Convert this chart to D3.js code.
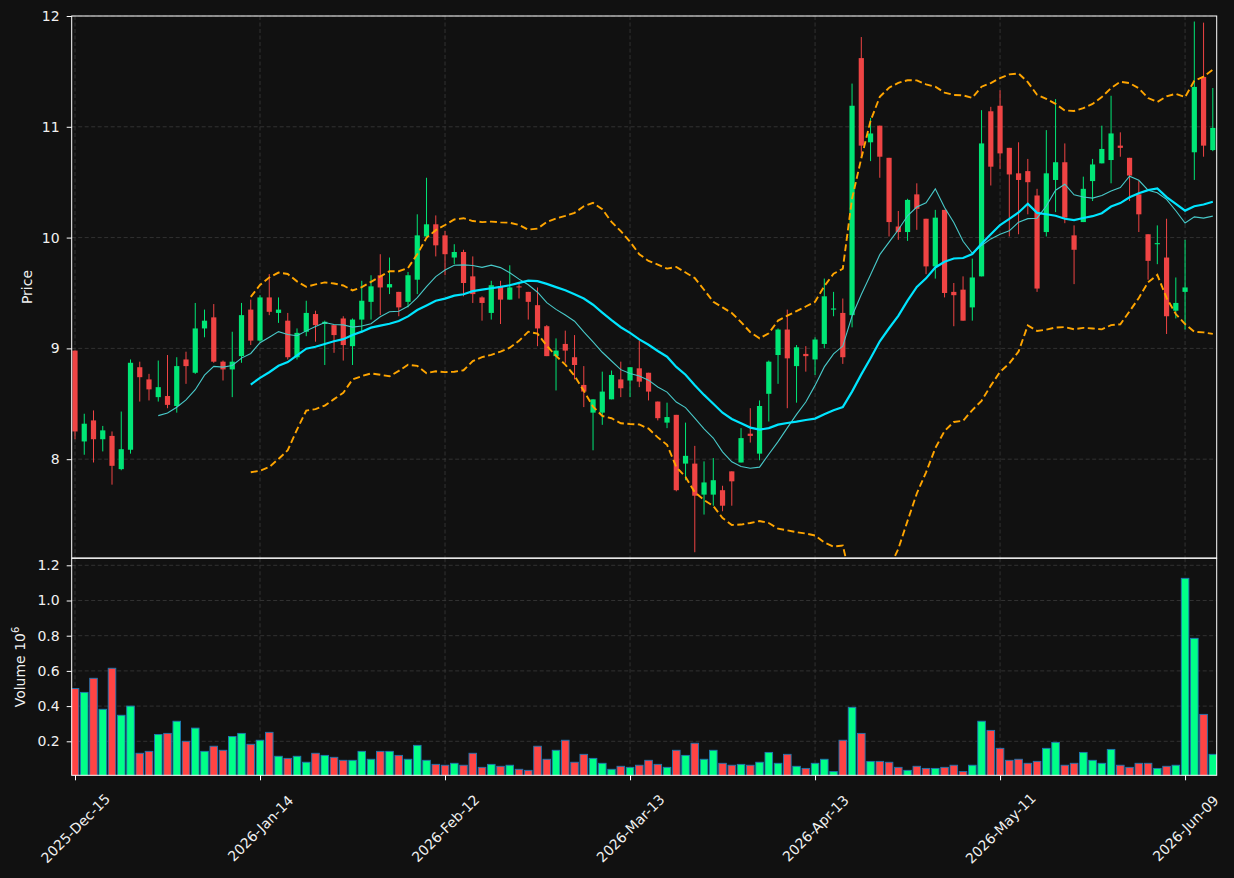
<!DOCTYPE html>
<html><head><meta charset="utf-8">
<script src="https://cdn.jsdelivr.net/npm/d3@7"></script>
<style>html,body{margin:0;padding:0;background:#111111;}svg{display:block;}</style>
</head><body>
<svg id="chart" width="1234" height="878"></svg>
<script>
// ---------------- DATA ----------------
const startDate = "2025-12-15";
const holidays = ["2025-12-25","2026-01-01","2026-01-19","2026-02-16","2026-04-03","2026-05-25"];
const open = [8.98,8.16,8.35,8.18,8.21,7.91,8.085,8.83,8.72,8.56,8.57,8.48,8.90,8.78,9.18,9.28,8.88,8.81,8.93,9.35,
9.07,9.46,9.32,9.25,8.92,9.15,9.31,9.22,9.21,9.27,9.02,9.26,9.42,9.66,9.55,9.51,9.42,9.62,10.01,10.12,
10.02,9.82,9.87,9.65,9.46,9.32,9.56,9.44,9.56,9.51,9.39,9.20,8.93,9.04,8.92,8.67,8.42,8.42,8.54,8.72,
8.71,8.82,8.78,8.52,8.33,8.40,7.96,7.96,7.68,7.68,7.72,7.89,7.97,8.23,8.05,8.59,8.94,9.17,8.84,8.95,
8.90,9.04,9.35,9.32,9.30,11.62,10.86,11.01,10.72,10.10,10.05,10.39,10.17,9.74,10.25,9.51,9.53,9.37,9.65,11.14,
11.19,10.81,10.58,10.60,10.38,10.05,10.52,10.68,10.02,10.14,10.51,10.67,10.70,10.83,10.72,10.39,10.03,9.94,9.82,9.34,
9.51,10.77,11.45,10.79];
const high = [8.98,8.41,8.44,8.30,8.25,8.43,8.90,8.88,8.77,8.89,8.94,8.92,8.97,9.41,9.35,9.40,8.89,9.15,9.41,9.44,
9.48,9.67,9.46,9.32,9.18,9.43,9.34,9.25,9.21,9.29,9.27,9.61,9.66,9.85,9.82,9.51,9.69,10.21,10.54,10.20,
10.06,9.94,9.89,9.83,9.47,9.61,9.61,9.75,9.59,9.51,9.55,9.21,9.09,9.16,9.12,8.84,8.54,8.79,8.80,8.88,
8.83,9.07,8.78,8.52,8.51,8.40,8.33,8.12,7.98,8.01,7.76,7.89,8.28,8.46,8.53,8.89,9.18,9.35,9.03,9.02,
9.10,9.63,9.51,9.45,11.39,11.81,11.08,11.01,10.72,10.24,10.35,10.49,10.17,10.25,10.25,9.59,9.65,9.81,11.15,11.18,
11.33,10.81,10.86,10.71,10.44,10.97,11.25,10.85,10.11,10.55,10.71,11.01,11.28,10.95,10.72,10.51,10.03,10.11,10.17,9.64,
9.98,11.95,11.94,11.35];
const low = [8.18,8.04,7.97,8.07,7.77,7.90,8.05,8.52,8.53,8.52,8.46,8.42,8.68,8.77,9.10,8.87,8.71,8.56,8.87,9.03,
9.06,9.30,9.23,8.90,8.90,9.11,9.06,8.85,8.96,8.89,8.85,9.14,9.26,9.30,9.49,9.29,9.37,9.49,10.00,9.83,
9.66,9.76,9.47,9.41,9.25,9.26,9.22,9.44,9.45,9.26,9.02,8.93,8.62,8.87,8.72,8.47,8.08,8.31,8.54,8.56,
8.56,8.65,8.53,8.35,8.28,7.71,7.81,7.16,7.50,7.58,7.53,7.58,7.97,8.15,7.99,8.34,8.68,8.46,8.51,8.79,
8.76,9.00,9.29,8.86,9.19,10.72,10.69,10.54,10.01,9.98,9.97,10.07,9.67,9.63,9.46,9.20,9.25,9.25,9.65,10.47,
10.62,10.01,10.03,10.21,9.51,10.01,10.23,10.13,9.58,10.14,10.33,10.67,10.49,10.73,10.33,10.05,9.62,9.76,9.13,9.27,
9.17,10.52,10.73,10.78];
const close = [8.25,8.32,8.18,8.26,7.94,8.09,8.87,8.74,8.63,8.65,8.49,8.84,8.84,9.18,9.25,8.88,8.81,8.88,9.30,9.07,
9.46,9.33,9.35,8.92,9.14,9.32,9.21,9.24,9.12,9.03,9.26,9.43,9.56,9.55,9.58,9.37,9.66,10.02,10.12,9.93,
9.85,9.87,9.59,9.49,9.41,9.57,9.44,9.55,9.55,9.42,9.18,8.93,8.98,8.98,8.85,8.61,8.54,8.61,8.76,8.64,
8.83,8.70,8.61,8.37,8.38,7.72,8.03,7.67,7.79,7.81,7.58,7.80,8.19,8.21,8.48,8.88,9.17,8.91,9.01,8.93,
9.08,9.47,9.36,8.92,11.19,10.83,10.94,10.73,10.14,10.05,10.34,10.26,9.74,10.18,9.50,9.48,9.25,9.64,10.85,10.64,
10.76,10.57,10.52,10.50,9.54,10.58,10.68,10.18,9.89,10.44,10.66,10.80,10.94,10.81,10.56,10.21,9.79,9.95,9.29,9.41,
9.55,11.36,10.83,10.99];
// volume in millions (10^6)
const volume = [0.50,0.478,0.558,0.382,0.615,0.348,0.40,0.132,0.143,0.239,0.245,0.314,0.20,0.275,0.143,0.172,0.149,0.227,0.245,0.183,
0.206,0.251,0.115,0.103,0.115,0.081,0.132,0.12,0.109,0.092,0.092,0.143,0.098,0.143,0.143,0.12,0.098,0.177,0.092,0.069,
0.064,0.075,0.064,0.132,0.052,0.069,0.058,0.064,0.041,0.035,0.172,0.098,0.149,0.206,0.081,0.126,0.103,0.075,0.041,0.058,
0.052,0.064,0.092,0.069,0.052,0.149,0.12,0.189,0.098,0.149,0.075,0.064,0.069,0.064,0.081,0.137,0.075,0.126,0.058,0.046,
0.075,0.098,0.028,0.206,0.393,0.245,0.086,0.086,0.081,0.052,0.035,0.058,0.046,0.046,0.052,0.064,0.028,0.064,0.314,0.262,
0.160,0.092,0.098,0.075,0.086,0.160,0.194,0.064,0.075,0.137,0.092,0.075,0.154,0.064,0.052,0.075,0.075,0.046,0.058,0.064,
1.126,0.785,0.353,0.126];
const priceTicks = [8, 9, 10, 11, 12];
const volumeTicks = [0.2, 0.4, 0.6, 0.8, 1.0, 1.2];
const xTickIndex = [0, 20, 40, 60, 80, 100, 120];
const maShort = 10, maLong = 20, bbK = 2;

// ---------------- HELPERS ----------------
function tradingDays(start, n, hol) {
  const out = []; const hs = new Set(hol);
  let d = new Date(start + "T12:00:00Z");
  const f = d3.utcFormat("%Y-%m-%d");
  while (out.length < n) {
    const wd = d.getUTCDay();
    if (wd !== 0 && wd !== 6 && !hs.has(f(d))) out.push(new Date(d));
    d = new Date(d.getTime() + 86400000);
  }
  return out;
}
function sma(a, n) { return a.map((v, i) => i < n - 1 ? null : d3.mean(a.slice(i - n + 1, i + 1))); }
function stdev(a, n) { return a.map((v, i) => i < n - 1 ? null : d3.deviation(a.slice(i - n + 1, i + 1))); }

const N = close.length;
const dates = tradingDays(startDate, N, holidays);
const fmt = d3.utcFormat("%Y-%b-%d");
const ma10 = sma(close, maShort), ma20 = sma(close, maLong), sd20 = stdev(close, maLong);
const bbUp = ma20.map((m, i) => m == null ? null : m + bbK * sd20[i]);
const bbLo = ma20.map((m, i) => m == null ? null : m - bbK * sd20[i]);

// ---------------- LAYOUT ----------------
const L = 71.7, R = 1216.7;
const pTop = 16, pBot = 558, vTop = 558.3, vBot = 775.3;
const step = 9.2506;
const x = d3.scaleLinear().domain([0, 1]).range([75, 75 + step]);
const yP = d3.scaleLinear().domain([7.108, 12.0]).range([pBot, pTop]);
const yV = d3.scaleLinear().domain([0.0068, 1.2398]).range([vBot, vTop]);

const UP = "#00e676", DN = "#ef4444", VUP = "#00ff88", VDN = "#ff4444";
const svg = d3.select("#chart");
svg.append("rect").attr("width", 1234).attr("height", 878).attr("fill", "#111111");

const defs = svg.append("defs");
defs.append("clipPath").attr("id", "clipP").append("rect").attr("x", L).attr("y", pTop).attr("width", R - L).attr("height", pBot - pTop);
defs.append("clipPath").attr("id", "clipV").append("rect").attr("x", L).attr("y", vTop).attr("width", R - L).attr("height", vBot - vTop);

// grid
const grid = svg.append("g").attr("stroke", "#3a3a3a").attr("stroke-width", 0.8).attr("stroke-dasharray", "4,2.5");
grid.selectAll(".gp").data(priceTicks).join("line").attr("x1", L).attr("x2", R).attr("y1", d => yP(d)).attr("y2", d => yP(d));
grid.selectAll(".gv").data(volumeTicks).join("line").attr("class","gv").attr("x1", L).attr("x2", R).attr("y1", d => yV(d)).attr("y2", d => yV(d));
grid.selectAll(".gx1").data(xTickIndex).join("line").attr("class","gx1").attr("x1", d => x(d)).attr("x2", d => x(d)).attr("y1", pTop).attr("y2", pBot);
grid.selectAll(".gx2").data(xTickIndex).join("line").attr("class","gx2").attr("x1", d => x(d)).attr("x2", d => x(d)).attr("y1", vTop).attr("y2", vBot);

// volume bars
const idx = d3.range(N);
const isUp = i => close[i] >= open[i];
svg.append("g").attr("clip-path", "url(#clipV)").selectAll("rect").data(idx).join("rect")
  .attr("x", i => x(i) - 3.8).attr("width", 7.6)
  .attr("y", i => yV(volume[i])).attr("height", i => yV(0.0068) - yV(volume[i]) + 2)
  .attr("fill", i => isUp(i) ? VUP : VDN)
  .attr("stroke", "#1f77b4").attr("stroke-width", 0.9);

// candles
const cg = svg.append("g").attr("clip-path", "url(#clipP)");
cg.selectAll(".wick").data(idx).join("line").attr("class", "wick")
  .attr("x1", i => x(i)).attr("x2", i => x(i))
  .attr("y1", i => yP(high[i])).attr("y2", i => yP(low[i]))
  .attr("stroke", i => isUp(i) ? UP : DN).attr("stroke-width", 1);
cg.selectAll(".body").data(idx).join("rect").attr("class", "body")
  .attr("x", i => x(i) - 2.6).attr("width", 5.2)
  .attr("y", i => yP(Math.max(open[i], close[i])))
  .attr("height", i => Math.max(1, Math.abs(yP(open[i]) - yP(close[i]))))
  .attr("fill", i => isUp(i) ? UP : DN);

// overlays
const lineGen = arr => d3.line().defined(i => arr[i] != null).x(i => x(i)).y(i => yP(arr[i]))(idx);
const lg = svg.append("g").attr("clip-path", "url(#clipP)").attr("fill", "none");
lg.append("path").attr("d", lineGen(bbUp)).attr("stroke", "#ffa500").attr("stroke-width", 1.9).attr("stroke-dasharray", "7,3.5");
lg.append("path").attr("d", lineGen(bbLo)).attr("stroke", "#ffa500").attr("stroke-width", 1.9).attr("stroke-dasharray", "7,3.5");
lg.append("path").attr("d", lineGen(ma10)).attr("stroke", "#48c9c9").attr("stroke-width", 1.1);
lg.append("path").attr("d", lineGen(ma20)).attr("stroke", "#00e5ff").attr("stroke-width", 2.2);

// spines
const sp = svg.append("g").attr("fill", "none").attr("stroke", "#ffffff").attr("stroke-width", 1);
sp.append("rect").attr("x", L).attr("y", pTop).attr("width", R - L).attr("height", pBot - pTop);
sp.append("rect").attr("x", L).attr("y", vTop).attr("width", R - L).attr("height", vBot - vTop);

// axes
const txt = "#f0f0f0", font = "DejaVu Sans, sans-serif";
function styleAxis(g) {
  g.select(".domain").remove();
  g.selectAll(".tick line").attr("stroke", "#ffffff");
  g.selectAll(".tick text").attr("fill", txt).attr("font-size", 14).attr("font-family", font);
}
svg.append("g").attr("transform", `translate(${L},0)`)
  .call(d3.axisLeft(yP).tickValues(priceTicks).tickFormat(d3.format("d")).tickSize(5).tickPadding(7)).call(styleAxis);
svg.append("g").attr("transform", `translate(${L},0)`)
  .call(d3.axisLeft(yV).tickValues(volumeTicks).tickFormat(d3.format(".1f")).tickSize(5).tickPadding(7)).call(styleAxis);
const xa = svg.append("g").attr("transform", `translate(0,${vBot})`)
  .call(d3.axisBottom(x).tickValues(xTickIndex).tickFormat(i => fmt(dates[i])).tickSize(5));
xa.select(".domain").remove();
xa.selectAll(".tick line").attr("stroke", "#ffffff");
xa.selectAll(".tick text").attr("fill", txt).attr("font-size", 14).attr("font-family", font)
  .attr("text-anchor", "middle").attr("dominant-baseline", "central")
  .attr("y", 0).attr("dy", null)
  .attr("transform", "translate(0,53) rotate(-45)");

// axis labels
svg.append("text").attr("transform", "translate(32,287) rotate(-90)").attr("text-anchor", "middle")
  .attr("fill", txt).attr("font-size", 14).attr("font-family", font).text("Price");
const vl = svg.append("text").attr("transform", "translate(25,667) rotate(-90)").attr("text-anchor", "middle")
  .attr("fill", txt).attr("font-size", 14).attr("font-family", font);
vl.append("tspan").text("Volume  10");
vl.append("tspan").attr("font-size", 10).attr("dy", -6).text("6");
</script>
</body></html>
